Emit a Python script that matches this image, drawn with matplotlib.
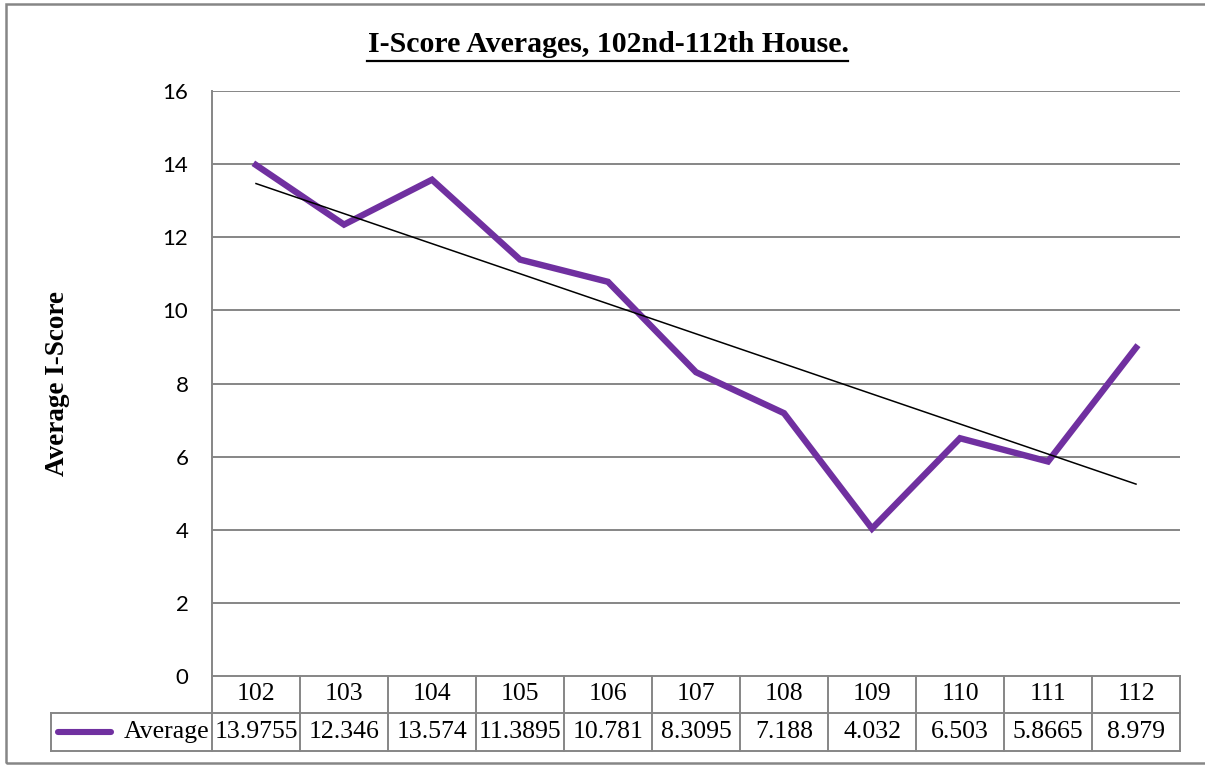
import numpy as np
import matplotlib.pyplot as plt
from matplotlib.lines import Line2D
from matplotlib.patches import Rectangle
import matplotlib.transforms as mtransforms

# --- DATA ---
congress = ["102", "103", "104", "105", "106", "107", "108", "109", "110", "111", "112"]
average = [13.9755, 12.346, 13.574, 11.3895, 10.781, 8.3095, 7.188, 4.032, 6.503, 5.8665, 8.979]
average_labels = ["13.9755", "12.346", "13.574", "11.3895", "10.781", "8.3095",
                  "7.188", "4.032", "6.503", "5.8665", "8.979"]
y_ticks = [0, 2, 4, 6, 8, 10, 12, 14, 16]

W, H = 1205, 765
GRID = "#868686"
PURPLE = "#7030A0"
SERIF = "Liberation Serif"
SANS = "Lato"


def px(x0, y0, x1, y1):
    # pixel box (top-left origin) -> figure fraction rect
    return [x0 / W, 1 - y1 / H, (x1 - x0) / W, (y1 - y0) / H]


fig = plt.figure(figsize=(W / 100, H / 100), dpi=100)

# outer chart border (right edge falls off the picture)
fig.patches.append(Rectangle((6 / W, 1 - 763 / H), 1210 / W, 759 / H,
                             transform=fig.transFigure, fill=False,
                             edgecolor=GRID, linewidth=1.8))

ax = fig.add_axes(px(212, 91, 1180, 676))
xs = np.arange(len(congress))

for v in y_ticks[1:]:
    ax.axhline(v, color=GRID, linewidth=1.4, zorder=1)

ax.plot(xs, average, color=PURPLE, linewidth=4.6, solid_joinstyle="miter", zorder=3)

# linear trendline
k, b = np.polyfit(xs, average, 1)
ax.plot(xs, k * xs + b, color="black", linewidth=1.1, zorder=4)

ax.set_xlim(-0.5, len(congress) - 0.5)
ax.set_ylim(0, 16)
ax.set_yticks(y_ticks)
ax.set_yticklabels([str(v) for v in y_ticks], fontsize=16, family=SANS)
ax.tick_params(axis="y", length=0, pad=17)
ax.set_xticks([])
for side in ["top", "right"]:
    ax.spines[side].set_visible(False)
ax.spines["left"].set_color(GRID)
ax.spines["left"].set_linewidth(1.4)
ax.spines["bottom"].set_color(GRID)
ax.spines["bottom"].set_linewidth(1.4)

fig.text(58 / W, 1 - 383 / H, "Average I-Score", rotation=90, ha="center", va="center",
         fontsize=19.5, family=SERIF, fontweight="bold")

title = fig.text(608 / W, 1 - 45 / H, "I-Score Averages, 102nd-112th House.",
                 ha="center", va="center", fontsize=21.5, family=SERIF, fontweight="bold")
# underline under the title, matched to its width
fig.canvas.draw()
bb = title.get_window_extent().transformed(fig.transFigure.inverted())
fig.add_artist(Line2D([bb.x0, bb.x1], [1 - 61 / H, 1 - 61 / H],
                      transform=fig.transFigure, color="black", linewidth=1.6))

# --- data table below the axis ---
trans = mtransforms.blended_transform_factory(ax.transData, ax.transAxes)
ah = 585.0
r1 = -37 / ah
r2 = -75 / ah
left_px = 51
x_left = -0.5 - (212 - left_px) / 88.0

kw = dict(transform=trans, color=GRID, linewidth=1.4, clip_on=False)
ax.plot([x_left, 10.5], [r1, r1], **kw)
ax.plot([x_left, 10.5], [r2, r2], **kw)
ax.plot([x_left, x_left], [r1, r2], **kw)
ax.plot([10.5, 10.5], [0, r2], **kw)
for i in range(len(congress)):
    ax.plot([i - 0.5, i - 0.5], [0, r2], **kw)

for i, (c, v) in enumerate(zip(congress, average_labels)):
    ax.text(i, r1 / 2, c, transform=trans, ha="center", va="center",
            fontsize=18.5, family=SERIF)
    ax.text(i, (r1 + r2) / 2, v, transform=trans, ha="center", va="center",
            fontsize=18.5, family=SERIF)

ax.plot([x_left + 0.08, x_left + 0.68], [(r1 + r2) / 2] * 2, transform=trans,
        color=PURPLE, linewidth=4.4, solid_capstyle="round", clip_on=False)
ax.text(-0.53, (r1 + r2) / 2, "Average", transform=trans, ha="right", va="center",
        fontsize=18.5, family=SERIF)

fig.savefig("out.png", dpi=100)
